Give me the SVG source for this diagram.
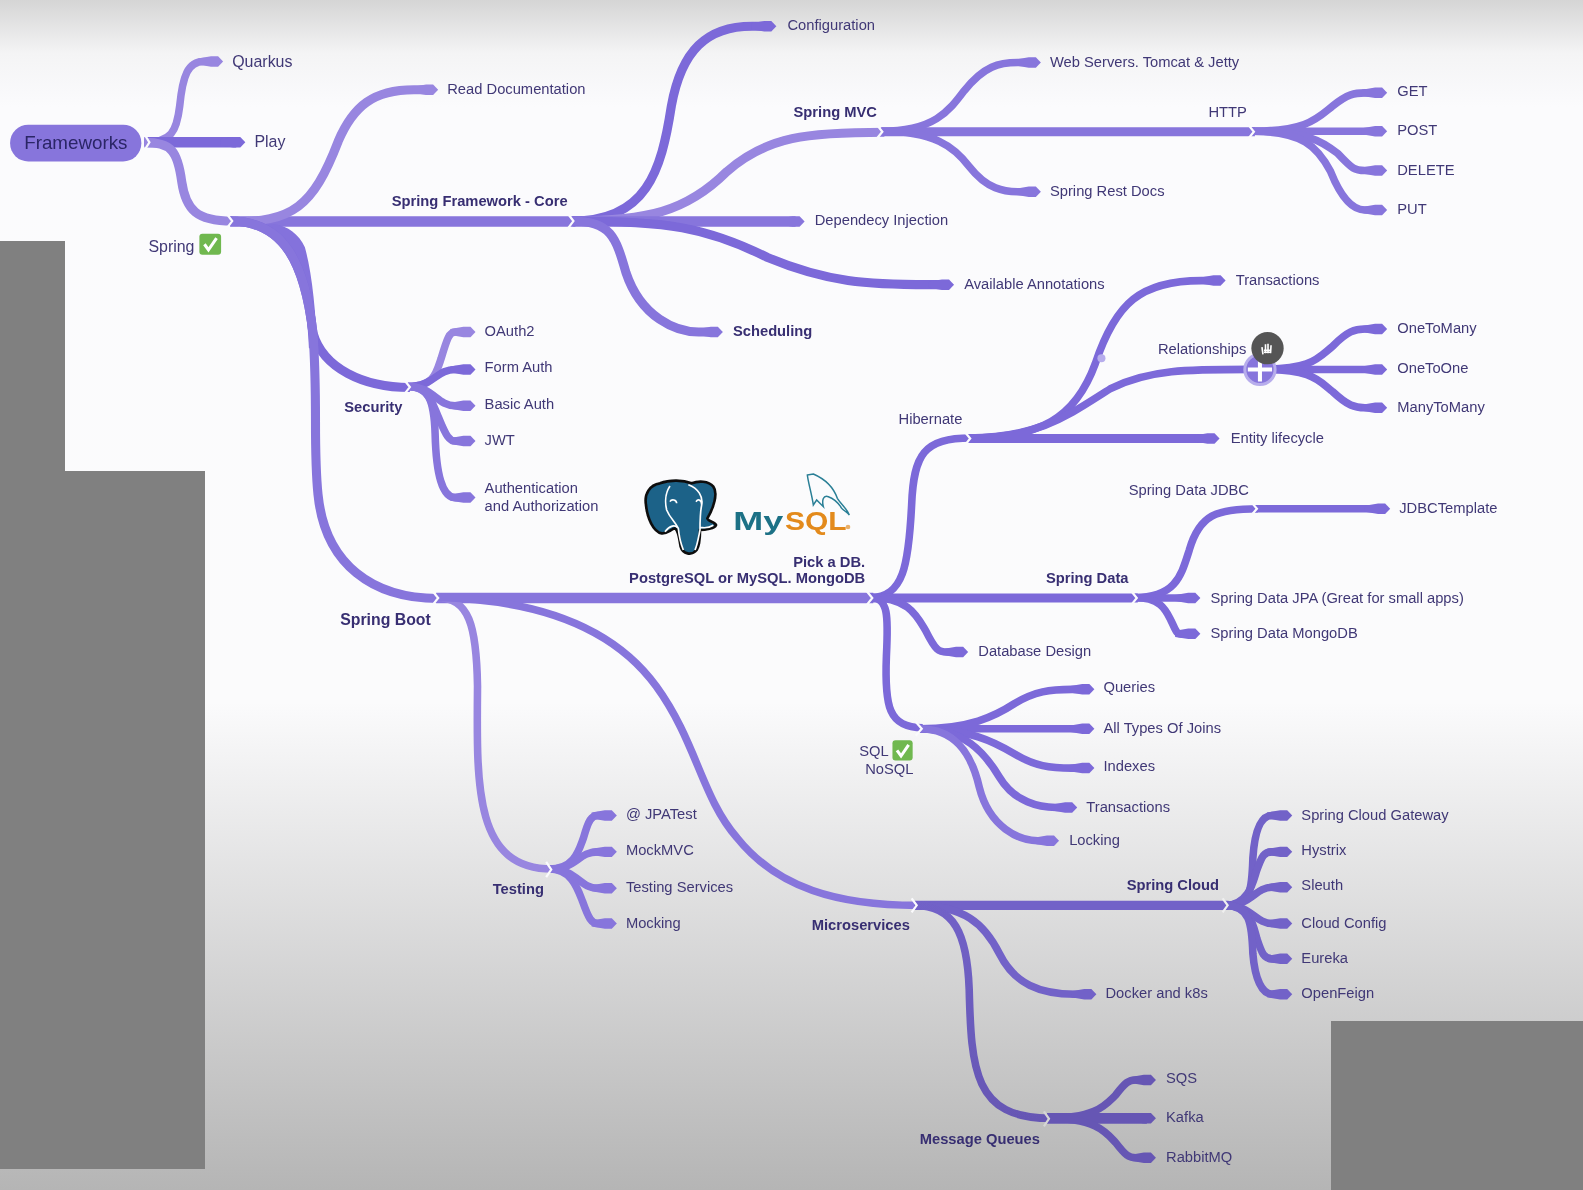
<svg xmlns="http://www.w3.org/2000/svg" width="1583" height="1190" viewBox="0 0 1583 1190">
<defs>
<linearGradient id="bg" x1="0" y1="0" x2="0" y2="1">
<stop offset="0" stop-color="#d5d5d5"/><stop offset="0.045" stop-color="#f4f4f5"/><stop offset="0.09" stop-color="#fbfbfd"/><stop offset="0.59" stop-color="#fbfbfc"/><stop offset="1" stop-color="#b5b5b5"/>
</linearGradient>
<filter id="soft" x="-2%" y="-2%" width="104%" height="104%"><feGaussianBlur stdDeviation="0.45"/></filter>
<marker id="m1" markerUnits="userSpaceOnUse" markerWidth="32" markerHeight="16" refX="20" refY="8" orient="auto"><path fill="#9886e0" d="M4,5 L17,2.800 L24,2.800 L29,8 L24,13.200 L17,13.200 L4,11Z"/></marker>
<marker id="m2" markerUnits="userSpaceOnUse" markerWidth="32" markerHeight="16" refX="20" refY="8" orient="auto"><path fill="#8775dc" d="M4,5 L17,2.800 L24,2.800 L29,8 L24,13.200 L17,13.200 L4,11Z"/></marker>
<marker id="m3" markerUnits="userSpaceOnUse" markerWidth="32" markerHeight="16" refX="20" refY="8" orient="auto"><path fill="#7b69d9" d="M4,5 L17,2.800 L24,2.800 L29,8 L24,13.200 L17,13.200 L4,11Z"/></marker>
<marker id="m4" markerUnits="userSpaceOnUse" markerWidth="32" markerHeight="16" refX="20" refY="8" orient="auto"><path fill="#7262c8" d="M4,5 L17,2.800 L24,2.800 L29,8 L24,13.200 L17,13.200 L4,11Z"/></marker>
<marker id="m5" markerUnits="userSpaceOnUse" markerWidth="32" markerHeight="16" refX="20" refY="8" orient="auto"><path fill="#6657b4" d="M4,5 L17,2.800 L24,2.800 L29,8 L24,13.200 L17,13.200 L4,11Z"/></marker>
<linearGradient id="mq" gradientUnits="userSpaceOnUse" x1="0" y1="890" x2="0" y2="1110"><stop offset="0" stop-color="#7262c8"/><stop offset="1" stop-color="#6657b4"/></linearGradient>
</defs>
<style>
path.b{fill:none;stroke-width:7.500;stroke-linecap:butt}
.c1{stroke:#9886e0;marker-end:url(#m1)}
.c2{stroke:#8775dc;marker-end:url(#m2)}
.c3{stroke:#7b69d9;marker-end:url(#m3)}
.c4{stroke:#7262c8;marker-end:url(#m4)}
.c5{stroke:#6657b4;marker-end:url(#m5)}
path.w{stroke-width:9}
path.W{stroke-width:10.500}
path.n{marker-end:none}
.gap{fill:none;stroke:#fbfbfd;stroke-width:2.200}
text{font-family:"Liberation Sans",Arial,sans-serif;font-size:14.6px;fill:#403876}
text.h{font-weight:bold;fill:#372f72}
.ok{fill:#6fb84f}
.okm{fill:none;stroke:#fff;stroke-width:3}
.mask{fill:#808080}
</style>
<rect width="1583" height="1190" fill="url(#bg)"/>
<g filter="url(#soft)">
<g transform="scale(1.00957 1.00933)">
<g id="connectors">
<path class="b c1" d="M143,141 C170,141 175,130 178,105 C181,75 186,61 202,61 L212,61"/>
<path class="b c3 W" d="M143,141 L234,141"/>
<path class="b c1 n w" d="M143,141 C170,141 176,150 180,180 C184,208 195,219 230,219"/>
<path class="b c2 W n" d="M228,219.500 L570,219.500"/>
<path class="b c1 w" d="M228,220 C290,220 310,205 335,140 C350,105 370,89 410,89 L425,89"/>
<path d="M262,223 C285,232 292,250 298,280 C302,300 305,320 306,345 L314,345 C313,310 309,270 302,245 C296,232 285,224 272,222Z" fill="#8472dc"/>
<path class="b c3 n w" d="M228,219 C282,219 302,262 310,330 C320,365 360,384 406,384"/>
<path class="b c2 n w" d="M228,219 C282,219 302,262 310,330 C315,400 310,440 315,490 C322,560 370,593 434,593"/>
<path class="b c3 w" d="M567,219 C640,219 655,170 665,105 C675,50 700,26 745,26 L760,26"/>
<path class="b c1 n w" d="M567,219 C640,219 680,210 720,170 C760,135 800,131 876,131"/>
<path class="b c2 W" d="M567,219.500 L788,219.500"/>
<path class="b c3 w" d="M567,219 C660,219 700,225 760,255 C820,280 860,282 920,282 L936,282"/>
<path class="b c2 w" d="M567,219 C605,219 610,235 620,270 C635,315 670,329 692,329 L707,329"/>
<path class="b c2" d="M873,130 C925,130 940,110 955,90 C975,65 990,62 1008,62 L1022,62"/>
<path class="b c2 w n" d="M873,130.500 L1243,130.500"/>
<path class="b c2" d="M873,130 C925,130 945,145 960,165 C978,188 995,190 1008,190 L1022,190"/>
<path class="b c2" d="M1240,130 C1295,130 1305,117 1320,105 C1335,93 1342,92 1352,92 L1365,92"/>
<path class="b c2" d="M1240,130 L1365,130"/>
<path class="b c2" d="M1240,130 C1295,130 1310,140 1325,152 C1340,168 1342,169 1352,169 L1365,169"/>
<path class="b c2" d="M1240,130 C1290,130 1305,145 1318,170 C1330,200 1342,208 1352,208 L1365,208"/>
<path class="b c1" d="M404,383 C430,383 432,370 437,355 C443,335 445,329 451,329 L462,329"/>
<path class="b c3" d="M404,383 C430,383 432,366 451,366 L462,366"/>
<path class="b c2" d="M404,383 C430,383 432,402 451,402 L462,402"/>
<path class="b c2" d="M404,383 C426,383 428,400 435,415 C442,432 445,437 451,437 L462,437"/>
<path class="b c2" d="M404,383 C424,383 430,395 431,430 C432,470 438,493 451,493 L462,493"/>
<path class="b c2 W n" d="M432,592.500 L865,592.500"/>
<path class="b c1 n" d="M432,592 C465,592 472,620 473,680 C472,780 470,861 547,861"/>
<path class="b c2 n" d="M432,592 C540,594 610,625 650,680 C690,735 695,790 730,830 C770,880 830,897 909,897"/>
<path class="b c2" d="M544,861 C570,861 574,840 578,830 C583,812 586,808 592,808 L602,808"/>
<path class="b c2" d="M544,861 C572,861 572,844 592,844 L602,844"/>
<path class="b c2" d="M544,861 C572,861 574,880 592,880 L602,880"/>
<path class="b c2" d="M544,861 C566,861 572,880 577,893 C583,910 586,915 592,915 L602,915"/>
<path class="b c3 n" d="M862,592 C895,592 900,560 903,500 C905,450 915,434 962,434"/>
<path class="b c3 w n" d="M862,592.500 L1127,592.500"/>
<path class="b c3" d="M862,592 C900,592 908,610 917,625 C927,645 930,646 938,646 L950,646"/>
<path class="b c3 n" d="M862,592 C880,592 880,610 878,650 C876,700 880,721 914,721"/>
<path class="b c3" d="M959,434 C1030,434 1065,415 1085,360 C1105,300 1130,278 1190,278 L1205,278"/>
<path class="b c3 n" d="M959,434 C1030,434 1060,410 1100,385 C1140,365 1180,366 1250,366"/>
<path class="b c3 w" d="M959,434.500 L1199,434.500"/>
<path class="b c3" d="M1248,366 C1300,366 1305,355 1320,343 C1335,328 1342,326 1352,326 L1365,326"/>
<path class="b c3" d="M1248,366 L1365,366"/>
<path class="b c3" d="M1248,366 C1300,366 1305,376 1320,388 C1335,402 1342,404 1352,404 L1365,404"/>
<path class="b c3 n" d="M1124,592 C1165,592 1170,570 1178,545 C1188,510 1205,504 1246,504"/>
<path class="b c3" d="M1243,504 L1368,504"/>
<path class="b c3" d="M1124,592.500 L1180,592.500"/>
<path class="b c3" d="M1124,592 C1150,592 1155,605 1160,615 C1165,625 1165,628 1170,628 L1180,628"/>
<path class="b c3" d="M911,722 C960,722 985,710 1005,697 C1025,685 1040,683 1062,683 L1075,683"/>
<path class="b c3" d="M911,722 L1075,722"/>
<path class="b c3" d="M911,722 C960,722 985,735 1005,747 C1025,759 1040,761 1062,761 L1075,761"/>
<path class="b c3" d="M911,722 C955,722 975,745 990,770 C1005,795 1030,800 1046,800 L1058,800"/>
<path class="b c2" d="M911,722 C945,722 962,745 970,780 C980,820 1010,833 1028,833 L1040,833"/>
<path class="b c4 w n" d="M906,897 L1217,897"/>
<path class="b c4" d="M906,897 C955,897 975,915 990,945 C1005,975 1030,985 1065,985 L1077,985"/>
<path class="b n" style="stroke:url(#mq)" d="M906,897 C945,897 958,925 960,980 C962,1060 965,1108 1040,1108"/>
<path class="b c4" d="M1214,897 C1240,897 1240,880 1241,850 C1243,820 1250,808 1260,808 L1271,808"/>
<path class="b c4" d="M1214,897 C1238,897 1242,870 1245,862 C1250,848 1252,844 1260,844 L1271,844"/>
<path class="b c4" d="M1214,897 C1240,897 1243,879 1260,879 L1271,879"/>
<path class="b c4" d="M1214,897 C1240,897 1243,915 1260,915 L1271,915"/>
<path class="b c4" d="M1214,897 C1238,897 1241,915 1245,930 C1250,945 1252,950 1260,950 L1271,950"/>
<path class="b c4" d="M1214,897 C1238,897 1240,915 1241,945 C1243,970 1250,985 1260,985 L1271,985"/>
<path class="b c5" d="M1037,1108 C1085,1108 1095,1095 1105,1085 C1115,1072 1118,1070 1125,1070 L1136,1070"/>
<path class="b c5 W" d="M1037,1108 L1136,1108"/>
<path class="b c5" d="M1037,1108 C1085,1108 1095,1121 1105,1132 C1115,1145 1118,1147 1125,1147 L1136,1147"/>
<g>
<path class="gap" d="M143,133 L148,141 L143,149"/>
<path class="gap" d="M224,211 L230,219 L224,227"/>
<path class="gap" d="M562,211 L568,219 L562,227"/>
<path class="gap" d="M868,123 L874,130.500 L868,138"/>
<path class="gap" d="M1236,123 L1242,130.500 L1236,138"/>
<path class="gap" d="M400,376 L406,383.500 L400,391"/>
<path class="gap" d="M428,585 L434,592.500 L428,600"/>
<path class="gap" d="M858,585 L864,592.500 L858,600"/>
<path class="gap" d="M541,854 L546,861.500 L541,869"/>
<path class="gap" d="M955,427 L961,434.500 L955,442"/>
<path class="gap" d="M1120,585 L1126,592.500 L1120,600"/>
<path class="gap" d="M1239,497 L1245,504 L1239,511"/>
<path class="gap" d="M907,715 L913,722 L907,729"/>
<path class="gap" d="M903,890 L908,897 L903,904"/>
<path class="gap" d="M1211,890 L1216,897 L1211,904" style="stroke:#efefef"/>
<path class="gap" d="M1034,1101 L1039,1108.500 L1034,1116" style="stroke:#d5d5d5"/>
</g>
<circle cx="1091" cy="355" r="4" fill="#b7adec"/>
</g>
<g id="n-frameworks"><rect x="10" y="123.500" width="130" height="36.500" rx="18" fill="#8775dc"/><text class="h" x="24" y="148" style="font-size:18.600px;font-weight:normal;fill:#2b2566">Frameworks</text></g>
<g id="n-quarkus"><text x="230" y="66" style="font-size:15.800px">Quarkus</text></g>
<g id="n-play"><text x="252" y="146" style="font-size:15.800px">Play</text></g>
<g id="n-spring"><text x="147" y="250" style="font-size:15.800px">Spring</text><rect class="ok" x="197.500" y="231.500" width="21.500" height="21" rx="3"/><path class="okm" d="M202.500,242 L206.500,247.500 L214.500,236"/></g>
<g id="n-read-doc"><text x="443" y="93">Read Documentation</text></g>
<g id="n-core"><text class="h" x="388" y="204">Spring Framework - Core</text></g>
<g id="n-config"><text x="780" y="30">Configuration</text></g>
<g id="n-mvc"><text class="h" x="786" y="116">Spring MVC</text></g>
<g id="n-web"><text x="1040" y="66">Web Servers. Tomcat &amp; Jetty</text></g>
<g id="n-http"><text x="1197" y="116">HTTP</text></g>
<g id="n-get"><text x="1384" y="95">GET</text></g>
<g id="n-post"><text x="1384" y="134">POST</text></g>
<g id="n-delete"><text x="1384" y="173">DELETE</text></g>
<g id="n-put"><text x="1384" y="212">PUT</text></g>
<g id="n-rest"><text x="1040" y="194">Spring Rest Docs</text></g>
<g id="n-di"><text x="807" y="223">Dependecy Injection</text></g>
<g id="n-anno"><text x="955" y="286">Available Annotations</text></g>
<g id="n-sched"><text class="h" x="726" y="333">Scheduling</text></g>
<g id="n-tx1"><text x="1224" y="282">Transactions</text></g>
<g id="n-rel"><text x="1147" y="351">Relationships</text></g>
<g id="n-o2m"><text x="1384" y="330">OneToMany</text></g>
<g id="n-o2o"><text x="1384" y="370">OneToOne</text></g>
<g id="n-m2m"><text x="1384" y="408">ManyToMany</text></g>
<g id="n-life"><text x="1219" y="439">Entity lifecycle</text></g>
<g id="n-hib"><text x="890" y="420">Hibernate</text></g>
<g id="n-jdbc"><text x="1118" y="490">Spring Data JDBC</text></g>
<g id="n-tmpl"><text x="1386" y="508">JDBCTemplate</text></g>
<g id="n-data"><text class="h" x="1036" y="578">Spring Data</text></g>
<g id="n-jpa"><text x="1199" y="597">Spring Data JPA (Great for small apps)</text></g>
<g id="n-mongo"><text x="1199" y="632">Spring Data MongoDB</text></g>
<g id="n-dbd"><text x="969" y="650">Database Design</text></g>
<g id="n-queries"><text x="1093" y="686">Queries</text></g>
<g id="n-joins"><text x="1093" y="726">All Types Of Joins</text></g>
<g id="n-indexes"><text x="1093" y="764">Indexes</text></g>
<g id="n-tx2"><text x="1076" y="805">Transactions</text></g>
<g id="n-lock"><text x="1059" y="837">Locking</text></g>
<g id="n-sql"><text x="851" y="749">SQL</text><rect class="ok" x="884" y="733.500" width="20" height="20" rx="3"/><path class="okm" d="M888.500,743.500 L892.500,749 L900,738"/><text x="857" y="767">NoSQL</text></g>
<g id="n-gateway"><text x="1289" y="812">Spring Cloud Gateway</text></g>
<g id="n-hystrix"><text x="1289" y="847">Hystrix</text></g>
<g id="n-sleuth"><text x="1289" y="882">Sleuth</text></g>
<g id="n-cfg"><text x="1289" y="919">Cloud Config</text></g>
<g id="n-eureka"><text x="1289" y="954">Eureka</text></g>
<g id="n-feign"><text x="1289" y="989">OpenFeign</text></g>
<g id="n-cloud"><text class="h" x="1116" y="882">Spring Cloud</text></g>
<g id="n-micro"><text class="h" x="804" y="921">Microservices</text></g>
<g id="n-docker"><text x="1095" y="989">Docker and k8s</text></g>
<g id="n-sqs"><text x="1155" y="1073">SQS</text></g>
<g id="n-kafka"><text x="1155" y="1112">Kafka</text></g>
<g id="n-rabbit"><text x="1155" y="1151">RabbitMQ</text></g>
<g id="n-mq"><text class="h" x="911" y="1133">Message Queues</text></g>
<g id="n-testing"><text class="h" x="488" y="886">Testing</text></g>
<g id="n-boot"><text class="h" x="337" y="619" style="font-size:15.700px">Spring Boot</text></g>
<g id="n-security"><text class="h" x="341" y="408">Security</text></g>
<g id="n-oauth"><text x="480" y="333">OAuth2</text></g>
<g id="n-form"><text x="480" y="369">Form Auth</text></g>
<g id="n-basic"><text x="480" y="405">Basic Auth</text></g>
<g id="n-jwt"><text x="480" y="441">JWT</text></g>
<g id="n-authz"><text x="480" y="488">Authentication</text><text x="480" y="506">and Authorization</text></g>
<g id="n-jpat"><text x="620" y="811">@ JPATest</text></g>
<g id="n-mock"><text x="620" y="847">MockMVC</text></g>
<g id="n-tsvc"><text x="620" y="884">Testing Services</text></g>
<g id="n-mocking"><text x="620" y="919">Mocking</text></g>
<g id="n-pick"><text class="h" x="857" y="562" text-anchor="end">Pick a DB.</text><text class="h" x="857" y="578" text-anchor="end">PostgreSQL or MySQL. MongoDB</text></g>
<g id="n-plus">
<circle cx="1248" cy="366" r="15" fill="#8775dc" stroke="#b7adec" stroke-width="3"/>
<path d="M1236,366 H1260 M1248,354 V378" stroke="#fff" stroke-width="4" fill="none"/>
<circle cx="1255.500" cy="345" r="16" fill="#555"/>
<path d="M1251,351 L1250,344 M1253.500,350 V341 M1256,350 V340.500 M1258.500,350 L1259,342 M1252,347 H1259 M1252,349 H1259" stroke="#fff" stroke-width="1.600" fill="none"/>
</g>
</g>
<g id="n-logos">
<g transform="translate(620 450) scale(.33333)">
<path d="M120,100 C90,105 72,130 78,165 C82,205 100,245 125,250 C140,252 150,240 165,235 C175,240 178,265 182,290 C188,312 215,318 230,300 C240,285 240,255 240,240 C255,240 285,235 288,225 C285,215 265,215 262,205 C280,175 295,130 280,110 C265,92 235,92 215,100 C190,90 150,88 120,100Z" fill="#1c6288" stroke="#111" stroke-width="8"/>
<path d="M150,108 C135,130 135,160 140,180 C150,205 165,215 175,235 C178,265 182,280 190,300 M205,104 C235,115 250,140 245,165 C240,190 240,215 240,240 C235,265 232,285 225,300 M135,245 C150,225 165,225 172,232 M150,155 C155,145 170,150 170,160 M228,155 C235,145 245,150 245,165 M240,232 C255,235 270,232 280,226" fill="none" stroke="#fff" stroke-width="5"/>
<path d="M562,75 L580,72 C610,85 640,110 652,145 C665,165 680,175 688,195 C680,185 665,178 662,170 C655,160 640,145 625,140 C610,135 605,150 610,170 L590,150 L580,165 C575,130 565,100 562,75Z" fill="#fbfbfd" stroke="#2a7f96" stroke-width="4.500"/>
<text x="340" y="240" textLength="150" lengthAdjust="spacingAndGlyphs" style="font-size:76px;font-weight:bold;fill:#1f7186">My</text>
<text x="495" y="240" textLength="185" lengthAdjust="spacingAndGlyphs" style="font-size:76px;font-weight:bold;fill:#e38a1a">SQL</text>
<circle cx="684" cy="231" r="7" fill="#e9b06a"/>
</g>
</g>
</g>
<rect class="mask" x="0" y="241" width="65" height="230"/>
<rect class="mask" x="0" y="471" width="205" height="698"/>
<rect class="mask" x="1331" y="1021" width="252" height="169"/>
</svg>
